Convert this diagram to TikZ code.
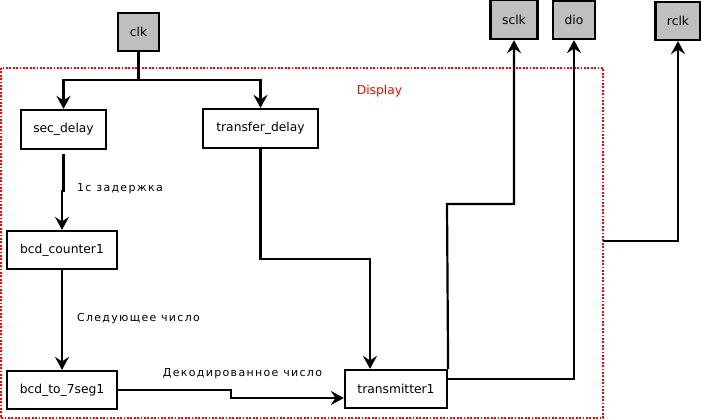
\documentclass[tikz,border=0pt]{standalone}
\usepackage{fontspec}
\setmainfont{DejaVu Sans}
\newfontfamily\lblfont[LetterSpace=12]{DejaVu Sans}
\usetikzlibrary{arrows.meta}
\begin{document}
\begin{tikzpicture}[x=1pt,y=-1pt,
  blk/.style={draw,line width=2.2pt,fill=white,font=\fontsize{12.3}{14}\selectfont,inner sep=0pt},
  port/.style={draw,line width=2.2pt,fill=black!25,font=\fontsize{12.3}{14}\selectfont,inner sep=0pt},
  wire/.style={line width=2.2pt},
  arr/.style={wire,-{Stealth[length=13pt,width=14pt,inset=4.5pt]}},
  elbl/.style={font=\lblfont\fontsize{11}{13}\selectfont,inner sep=0pt}]
\useasboundingbox (0,0) rectangle (701,420);
% display frame
\draw[red,line width=1.8pt,dash pattern=on 1.8pt off 1.6pt] (1,68) rectangle (603,418);
\node[red,font=\fontsize{12.3}{14}\selectfont,inner sep=0pt] (disp) at (379.5,91) {Display};
% ports
\node[port,minimum width=41pt,minimum height=38pt] (clk) at (138.5,32) {clk};
\node[port,minimum width=47pt,minimum height=39pt] (sclk) at (514,19.5) {sclk};
\node[port,minimum width=42pt,minimum height=38pt] (dio) at (574,20) {dio};
\node[port,minimum width=45pt,minimum height=38pt] (rclk) at (678,21) {rclk};
% blocks
\node[blk,minimum width=85pt,minimum height=39pt] (sec) at (63.5,129.5) {sec\_delay};
\node[blk,minimum width=115pt,minimum height=39pt] (tdel) at (260.5,128.5) {transfer\_delay};
\node[blk,minimum width=110pt,minimum height=38pt] (cnt) at (62,250) {bcd\_counter1};
\node[blk,minimum width=110pt,minimum height=38pt] (seg) at (62,390) {bcd\_to\_7seg1};
\node[blk,minimum width=102pt,minimum height=38pt] (tx) at (396,389) {transmitter1};
% helper coordinates
\coordinate (split) at (138.5,80);
\coordinate (frameR) at (603,241);
% connectors
\draw[wire] (clk.south) -- (split);
\draw[arr] (split) -| (sec.north);
\draw[arr] (split) -| (tdel.north);
\draw[arr] ([yshift=-4pt]sec.south) -- (63.5,191) -- (62,191) -- (cnt.north);
\draw[arr] (cnt.south) -- (seg.north);
\draw[arr] (tdel.south) |- (370,259) -- (tx.north -| 370,0);
\draw[arr] (seg.east) -- (231,390) -- (231,398) -- (tx.west |- 0,398);
\draw[arr] (tx.north east) -- (447,204) -| (sclk.south);
\draw[arr] (tx.east |- 0,379) -| (dio.south);
\draw[arr] (frameR) -| (rclk.south);
% edge labels
\node[elbl] (l1) at (120,189) {1с задержка};
\node[elbl] (l2) at (138.5,319) {Следующее число};
\node[elbl] (l3) at (242.5,374) {Декодированное число};
\end{tikzpicture}
\end{document}
